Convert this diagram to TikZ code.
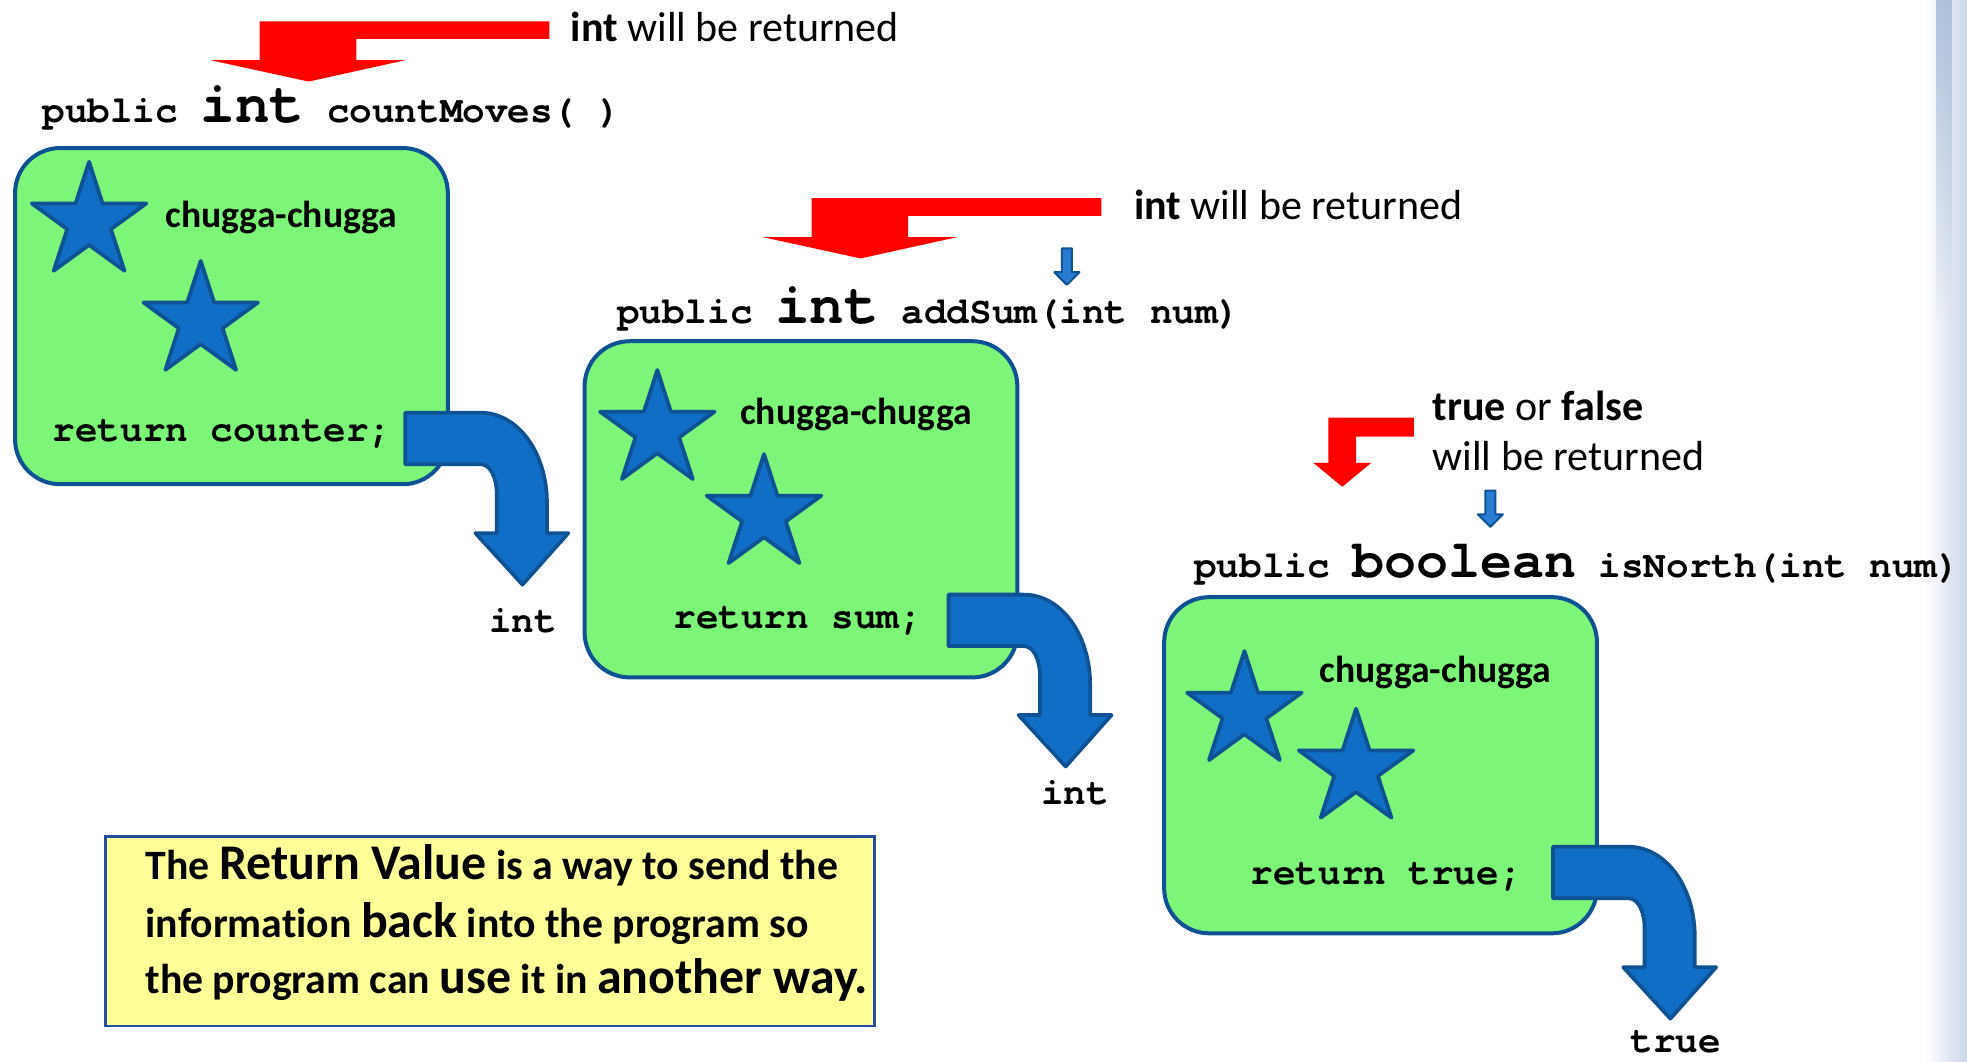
\documentclass[tikz,border=0pt]{standalone}
\usepackage{fontspec}
\setmainfont{Carlito}[Ligatures=NoCommon]
\newfontfamily\codefont{TeX Gyre Cursor}
\usetikzlibrary{fadings}

\definecolor{boxgreen}{RGB}{124,245,120}
\definecolor{edgeblue}{RGB}{14,82,148}
\definecolor{fillblue}{RGB}{17,110,198}
\definecolor{tickfill}{RGB}{40,125,210}
\definecolor{notefill}{RGB}{255,255,153}
\definecolor{noteedge}{RGB}{38,78,160}
\definecolor{stripblue}{RGB}{205,215,232}
\definecolor{stripdark}{RGB}{160,182,214}

\newcommand\codett{\codefont\bfseries\fontsize{30}{36}\selectfont}
\newcommand\codebig{\fontsize{46}{50}\selectfont}
\newcommand\codebool{\fontsize{42.5}{50}\selectfont}
\newcommand\calloutfont{\fontsize{33.5}{40}\selectfont}
\newcommand\chugfont{\bfseries\fontsize{30}{36}\selectfont}
\newcommand\notefont{\bfseries\fontsize{33.3}{39}\selectfont}
\newcommand\notebig{\fontsize{39.8}{46}\selectfont}

\tikzset{
  methodbox/.style={draw=edgeblue, line width=3.2pt, fill=boxgreen,
    rounded corners=36pt, minimum width=345pt, minimum height=268pt,
    anchor=north west},
  notebox/.style={draw=noteedge, line width=2pt, fill=notefill,
    minimum width=613pt, minimum height=151pt, anchor=north west},
  starsty/.style={draw=edgeblue, line width=3pt, fill=fillblue, line join=round},
  bentsty/.style={draw=edgeblue, line width=3pt, fill=fillblue, line join=round},
  ticksty/.style={draw=edgeblue, line width=1.6pt, fill=tickfill, line join=round},
  txt/.style={anchor=base west},
  % five-pointed star, outer radius 48
  bluestar/.pic={
    \draw[starsty] (-90:48) -- (-54:18.3) -- (-18:48) -- (18:18.3) -- (54:48)
      -- (90:18.3) -- (126:48) -- (162:18.3) -- (198:48) -- (234:18.3) -- cycle;
  },
  % curved return arrow leaving a method box
  bentarrow/.pic={
    \draw[bentsty] (0,0) -- (60,0) .. controls (90,0) and (113,32) .. (113,72)
      -- (113,96) -- (130,96) -- (93.5,137) -- (56,96) -- (73,96) -- (73,65)
      .. controls (73,52) and (68,41) .. (60,41) -- (0,41) -- cycle;
  },
  % small pointer towards a method name
  downtick/.pic={
    \draw[ticksty] (-4,0) -- (4,0) -- (4,19) -- (10,19) -- (0,29) -- (-10,19)
      -- (-4,19) -- cycle;
  },
  % long red pointer towards a return type
  redbent/.pic={
    \fill[red] (0,0) -- (231,0) -- (231,14) -- (77,14) -- (77,31) -- (116,31)
      -- (39,48) -- (-39,31) -- (0,31) -- cycle;
  },
  % short red pointer
  redshort/.pic={
    \fill[red] (0,0) -- (68,0) -- (68,15) -- (22,15) -- (22,36) -- (34,36)
      -- (11,55) -- (-12,36) -- (0,36) -- cycle;
  },
}

\begin{document}
\begin{tikzpicture}[x=1pt, y=-1pt, every node/.style={inner sep=0pt, outer sep=0pt}]
\useasboundingbox (0,0) rectangle (1568,846);
\fill[white] (0,0) rectangle (1568,846);

% slide edge decoration
\shade[left color=white, right color=stripblue] (1534,0) rectangle (1568,846);
\fill[stripdark, path fading=south, opacity=0.8] (1543,0) rectangle (1556,260);

% ---------- countMoves ----------
\pic at (207,17) {redbent};
\node[txt] (ret1note) at (455,33) {\calloutfont\textbf{int} will be returned};
\node[txt] (sig1) at (34,98) {\codett public {\codebig int} countMoves( )};
\node[methodbox] (box1) at (12,118) {};
\pic at (71,177) {bluestar};
\pic at (160,256) {bluestar};
\node[txt] (chug1) at (132,181) {\chugfont chugga-chugga};
\node[txt] (code1) at (42,352) {\codett return counter;};
\pic at (323,329) {bentarrow};
\node[txt, anchor=base] (out1) at (417,504) {\codett int};

% ---------- addSum ----------
\pic at (647,158) {redbent};
\node[txt] (ret2note) at (904,175) {\calloutfont\textbf{int} will be returned};
\pic at (850.5,198) {downtick};
\node[txt] (sig2) at (492,258) {\codett public {\codebig int} addSum(int num)};
\node[methodbox] (box2) at (466,272) {};
\pic at (524,343) {bluestar};
\pic at (609,410) {bluestar};
\node[txt] (chug2) at (590,338) {\chugfont chugga-chugga};
\node[txt] (code2) at (537,501) {\codett return sum;};
\pic at (756,474) {bentarrow};
\node[txt, anchor=base] (out2) at (857,641) {\codett int};

% ---------- isNorth ----------
\pic at (1059,333) {redshort};
\node[txt] (ret3a) at (1142,335) {\calloutfont\textbf{true} or \textbf{false}};
\node[txt] (ret3b) at (1142,375) {\calloutfont will be returned};
\pic at (1188,391) {downtick};
\node[txt] (sig3) at (952,460) {\codett public {\codebool boolean} isNorth(int num)};
\node[methodbox] (box3) at (928,476) {};
\pic at (992,567) {bluestar};
\pic at (1081,613) {bluestar};
\node[txt] (chug3) at (1052,544) {\chugfont chugga-chugga};
\node[txt] (code3) at (997,705) {\codett return true;};
\pic at (1238,675) {bentarrow};
\node[txt, anchor=base] (out3) at (1336,839) {\codett true};

% ---------- explanation ----------
\node[notebox] (note) at (84,667) {};
\node[txt] (line1) at (116,701) {\notefont The {\notebig Return Value} is a way to send the};
\node[txt] (line2) at (116,747) {\notefont information {\notebig back} into the program so};
\node[txt] (line3) at (116,792) {\notefont the program can {\notebig use} it in {\notebig another way.}};
\end{tikzpicture}
\end{document}
